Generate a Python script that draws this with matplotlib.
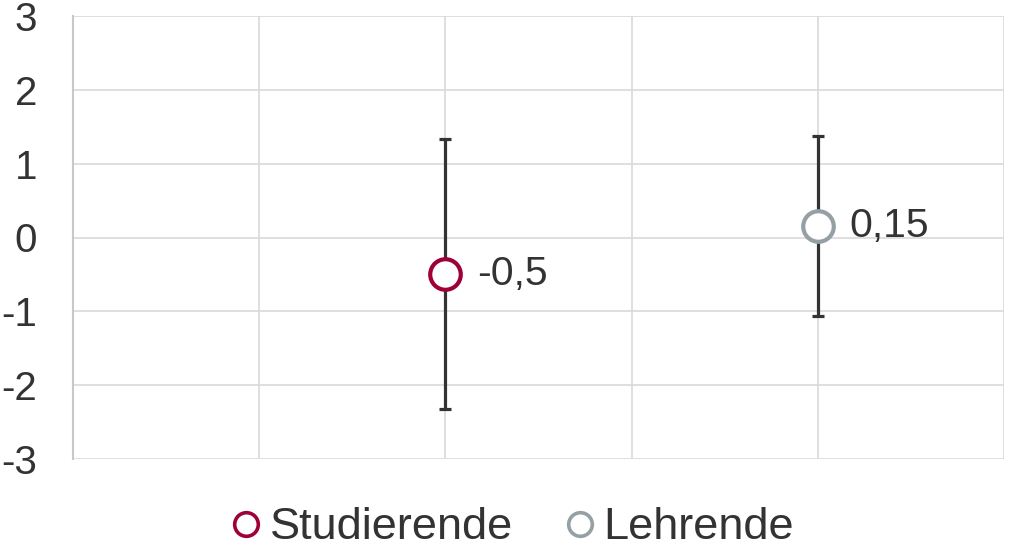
import matplotlib.pyplot as plt
from matplotlib.lines import Line2D

plt.rcParams['font.family'] = ['Liberation Sans', 'DejaVu Sans']

series = ['Studierende', 'Lehrende']
x_pos = [2, 4]
means = [-0.5, 0.15]
err_up = [1.84, 1.22]
err_down = [1.82, 1.21]
labels = ['-0,5', '0,15']
colors = ['#A0003A', '#95A0A5']
y_ticks = [-3, -2, -1, 0, 1, 2, 3]

fig = plt.figure(figsize=(10.09, 5.48), dpi=100)
ax = fig.add_axes([73 / 1009, (548 - 459) / 548, (1004 - 73) / 1009, (459 - 16) / 548])

for x, m, eu, ed, lab, c in zip(x_pos, means, err_up, err_down, labels, colors):
    ax.errorbar([x], [m], yerr=[[ed], [eu]], fmt='none', ecolor='#333333',
                elinewidth=2.3, capsize=4.5, capthick=2.3, zorder=3)
    ax.plot([x], [m], 'o', ms=22, mfc='white', mec=c, mew=3, zorder=4)
    ax.annotate(lab, (x, m), xytext=(23, 0), textcoords='offset points',
                ha='left', va='center', fontsize=29.5, color='#333333')

ax.set_xlim(0, 5)
ax.set_ylim(-3, 3)
ax.set_xticks([0, 1, 2, 3, 4, 5])
ax.set_yticks(y_ticks)
ax.set_yticklabels([str(t) for t in y_ticks])
ax.tick_params(axis='x', length=0, labelbottom=False)
ax.tick_params(axis='y', length=0, labelsize=29, labelcolor='#333333', pad=26)
ax.grid(True, color='#D9D9D9', lw=1.2)
ax.set_axisbelow(True)
for s in ['top', 'right', 'bottom']:
    ax.spines[s].set_visible(False)
ax.spines['left'].set_color('#C8C8C8')
ax.spines['left'].set_linewidth(1.5)

handles = [Line2D([], [], ls='none', marker='o', ms=17, mfc='white', mec=c, mew=2.6)
           for c in colors]
fig.legend(handles, series, loc='lower center', bbox_to_anchor=(0.508, -0.075), ncol=2,
           frameon=False, fontsize=32.5, handlelength=0.65, handletextpad=0.2,
           columnspacing=1.15, labelcolor='#333333')

fig.savefig('out.png', dpi=100)
